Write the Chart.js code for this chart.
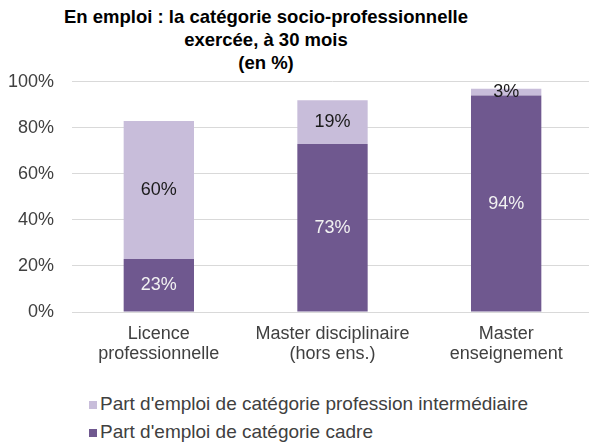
<!DOCTYPE html>
<html>
<head>
<meta charset="utf-8">
<script src="https://cdn.jsdelivr.net/npm/chart.js@4/dist/chart.umd.min.js"></script>
<style>
  body { margin: 0; background: #fff; font-family: "Liberation Sans", Arial, sans-serif; }
  #page { position: relative; width: 589px; height: 443px; overflow: hidden; }
  #titre { position: absolute; top: 5px; left: 0; width: 532px; text-align: center;
           font-weight: bold; font-size: 18.5px; line-height: 23px; color: #000; }
  #zone { position: absolute; top: 53px; left: 0; width: 593px; height: 323px; }
  #legende { position: absolute; top: 390px; left: 89px; font-size: 19px; line-height: 28px; color: #404040; }
  #legende span.carre { display: inline-block; width: 8px; height: 8px; margin-right: 3px; vertical-align: 1px; }
</style>
</head>
<body>
<div id="page">
  <div id="titre">En emploi : la catégorie socio-professionnelle<br>exercée, à 30 mois<br>(en %)</div>
  <div id="zone"><canvas id="graphique"></canvas></div>
  <div id="legende"></div>
</div>
<script>
const categories = [
  ['Licence', 'professionnelle'],
  ['Master disciplinaire', '(hors ens.)'],
  ['Master', 'enseignement']
];
const partCadre = [23, 73, 94];
const partIntermediaire = [60, 19, 3];
const graduations = ['0%', '20%', '40%', '60%', '80%', '100%'];

const violetFonce = '#6f588f';
const violetClair = '#c8bdda';

// étiquettes de valeur au centre de chaque segment
const etiquettes = {
  id: 'etiquettes',
  afterDatasetsDraw(chart) {
    const ctx = chart.ctx;
    ctx.save();
    ctx.font = '18px "Liberation Sans", Arial, sans-serif';
    ctx.textAlign = 'center';
    ctx.textBaseline = 'middle';
    chart.data.datasets.forEach((ds, i) => {
      chart.getDatasetMeta(i).data.forEach((bar, j) => {
        const y = (bar.y + bar.base) / 2;
        ctx.fillStyle = ds.couleurTexte;
        ctx.fillText(ds.data[j] + '%', bar.x, y);
      });
    });
    ctx.restore();
  }
};

const graphique = new Chart(document.getElementById('graphique'), {
  type: 'bar',
  data: {
    labels: categories,
    datasets: [
      {
        label: "Part d'emploi de catégorie cadre",
        data: partCadre,
        backgroundColor: violetFonce,
        couleurTexte: '#f2f2f2'
      },
      {
        label: "Part d'emploi de catégorie profession intermédiaire",
        data: partIntermediaire,
        backgroundColor: violetClair,
        couleurTexte: '#1a1a1a'
      }
    ]
  },
  options: {
    responsive: true,
    maintainAspectRatio: false,
    animation: false,
    barPercentage: 0.405,
    categoryPercentage: 1,
    layout: { padding: 0 },
    plugins: {
      legend: { display: false },
      tooltip: { enabled: false }
    },
    scales: {
      x: {
        stacked: true,
        grid: { display: false, drawTicks: false },
        border: { color: '#d9d9d9' },
        ticks: {
          color: '#404040',
          padding: 12,
          maxRotation: 0,
          font: { family: '"Liberation Sans", Arial, sans-serif', size: 18, lineHeight: 1.11 }
        }
      },
      y: {
        stacked: true,
        min: 0,
        max: 100,
        afterFit: (axe) => { axe.width = 72; },
        grid: { color: '#d9d9d9', drawTicks: false },
        border: { display: false },
        ticks: {
          stepSize: 20,
          padding: 18,
          color: '#404040',
          font: { family: '"Liberation Sans", Arial, sans-serif', size: 18 },
          callback: (v) => graduations[v / 20]
        }
      }
    }
  },
  plugins: [etiquettes]
});

// légende à la manière du tableur, ordre inversé
const legende = document.getElementById('legende');
graphique.data.datasets.slice().reverse().forEach((ds) => {
  const ligne = document.createElement('div');
  const carre = document.createElement('span');
  carre.className = 'carre';
  carre.style.background = ds.backgroundColor;
  ligne.appendChild(carre);
  ligne.appendChild(document.createTextNode(ds.label));
  legende.appendChild(ligne);
});
</script>
</body>
</html>
